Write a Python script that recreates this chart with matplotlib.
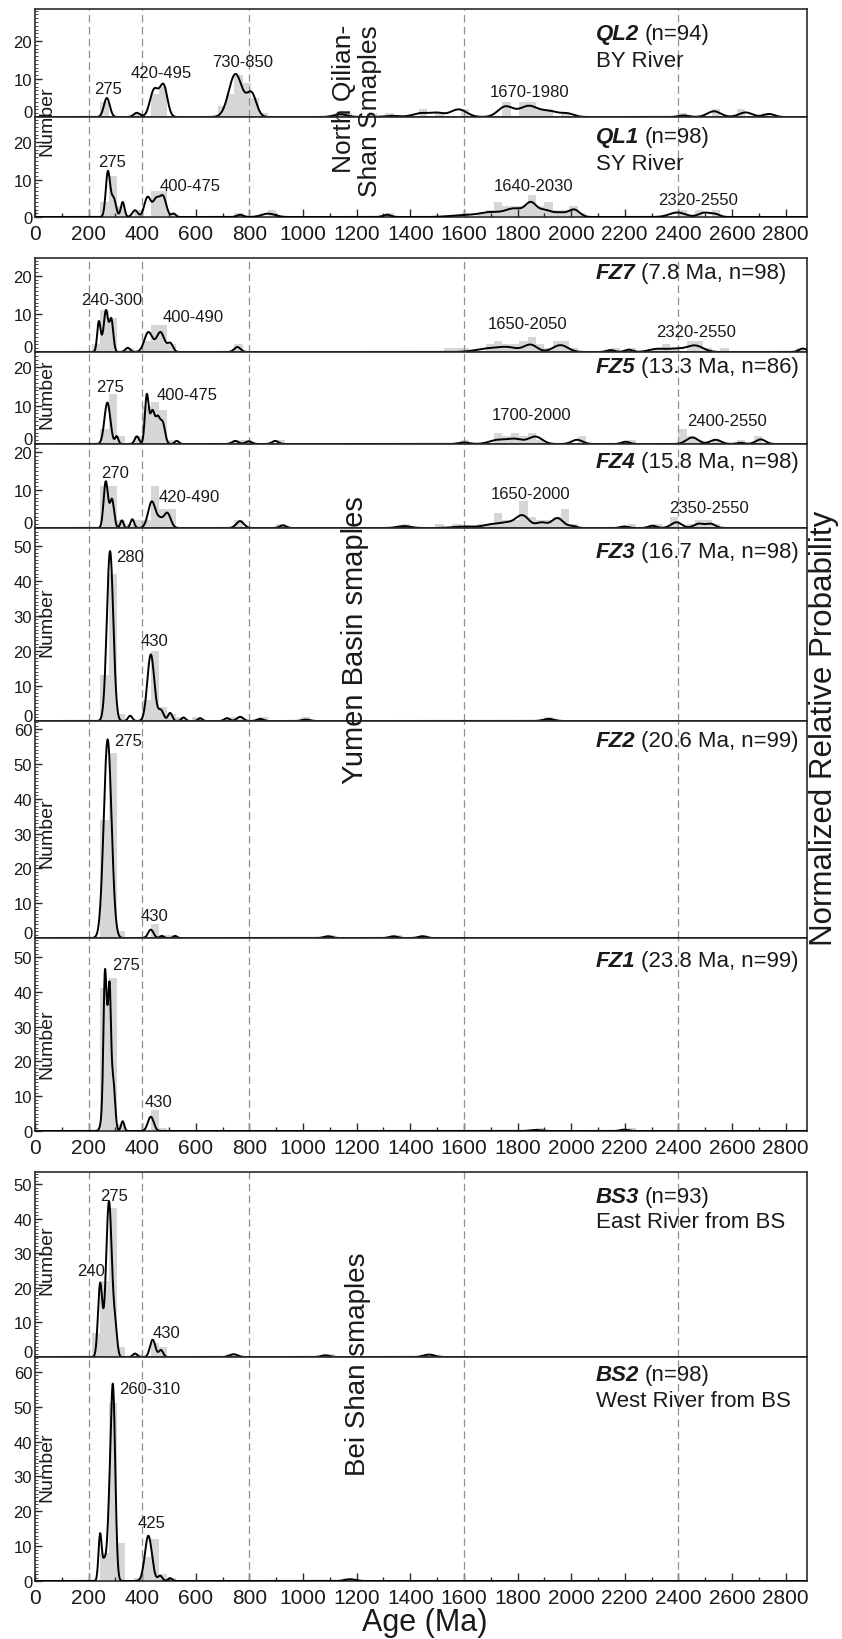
import numpy as np
import matplotlib
matplotlib.use("Agg")
import matplotlib.pyplot as plt
from matplotlib.ticker import MultipleLocator
from matplotlib.transforms import blended_transform_factory, ScaledTranslation

plt.rcParams['font.family'] = ['Liberation Sans', 'DejaVu Sans']

# ------------------------------------------------------------------ data
AGE_LINES = [200, 400, 800, 1600, 2400]
X_TICKS_MAJOR = 200
X_MAX = 2880
BIN_WIDTH = 31.25

# ---- QL2 (n=94) BY River
QL2_bins = [243.75, 368.75, 431.25, 462.5, 681.25, 712.5, 743.75, 775, 806.25, 837.5,
            1118.75, 1150, 1243.75, 1306.25, 1431.25, 1493.75, 1587.5, 1743.75, 1806.25,
            1837.5, 1868.75, 1900, 1962.5, 2400, 2525, 2618.75, 2712.5]
QL2_cnt = [4, 1, 6, 8, 3, 6, 11, 9, 5, 1, 1, 1, 1, 1, 2, 1, 2, 4, 4, 4, 2, 2, 1, 1, 2, 2, 1]
QL2_mu = [268, 380, 445, 480, 748, 808, 1140, 1330, 1440, 1500, 1580, 1755, 1842, 1920,
          1985, 2420, 2533, 2651, 2738]
QL2_amp = [5.0, 1.1, 7.2, 8.0, 11.3, 6.0, 0.7, 0.3, 1.0, 1.0, 2.0, 2.7, 2.9, 1.4, 0.9,
           0.4, 1.5, 1.2, 0.8]
QL2_sd = [11, 12, 16, 14, 25, 18, 25, 30, 30, 25, 30, 28, 35, 30, 25, 20, 25, 25, 20]
QL2_lbl = ["275", "420-495", "730-850", "1670-1980"]
QL2_lx = [271, 470, 775, 1845]
QL2_ly = [7.4, 11.8, 14.5, 6.8]

# ---- QL1 (n=98) SY River
QL1_bins = [243.75, 275, 306.25, 368.75, 431.25, 462.5, 493.75, 743.75, 868.75, 1306.25,
            1587.5, 1650, 1681.25, 1712.5, 1743.75, 1775, 1806.25, 1837.5, 1868.75, 1900,
            1931.25, 1962.5, 1993.75, 2025, 2400, 2462.5, 2525]
QL1_cnt = [4, 11, 3, 2, 7, 7, 1, 1, 2, 1, 1, 1, 2, 4, 3, 3, 3, 6, 3, 4, 2, 2, 3, 1, 2, 2, 2]
QL1_mu = [272, 293, 327, 373, 420, 452, 478, 517, 765, 870, 1313, 1600, 1700, 1790, 1850,
          1900, 1960, 2012, 2396, 2495, 2535]
QL1_amp = [12.0, 5.0, 4.0, 1.8, 5.3, 4.6, 5.3, 0.9, 0.6, 0.9, 0.6, 0.5, 1.2, 2.2, 3.3,
           1.8, 1.1, 1.9, 1.2, 1.1, 0.8]
QL1_sd = [8, 9, 7, 10, 12, 12, 12, 8, 12, 25, 15, 50, 40, 35, 20, 25, 25, 20, 30, 20, 18]
QL1_lbl = ["275", "400-475", "1640-2030", "2320-2550"]
QL1_lx = [289, 579, 1860, 2472]
QL1_ly = [14.9, 8.3, 8.3, 4.8]

# ---- FZ7 (7.8 Ma, n=98)
FZ7_bins = [212.5, 243.75, 275, 337.5, 400, 431.25, 462.5, 493.75, 743.75, 1525, 1556.25,
            1587.5, 1681.25, 1712.5, 1743.75, 1775, 1806.25, 1837.5, 1868.75, 1900, 1931.25,
            1962.5, 1993.75, 2150, 2212.5, 2306.25, 2337.5, 2368.75, 2431.25, 2462.5,
            2493.75, 2556.25, 2837.5]
FZ7_cnt = [2, 11, 9, 1, 3, 7, 7, 2, 2, 1, 1, 1, 2, 3, 2, 2, 3, 4, 2, 1, 3, 3, 1, 1, 1, 1,
           2, 1, 3, 3, 1, 1, 1]
FZ7_mu = [238, 262, 265, 285, 346, 423, 468, 505, 755, 1690, 1765, 1848, 1960, 2147, 2215,
          2321, 2390, 2462, 2865]
FZ7_amp = [7.0, 4.0, 7.0, 7.5, 1.1, 5.2, 5.2, 2.2, 1.3, 0.9, 1.1, 1.9, 1.8, 0.5, 0.6, 0.8,
           0.8, 1.7, 0.9]
FZ7_sd = [6, 15, 7, 7, 9, 15, 15, 10, 12, 45, 35, 25, 28, 15, 15, 30, 30, 30, 15]
FZ7_lbl = ["240-300", "400-490", "1650-2050", "2320-2550"]
FZ7_lx = [286, 590, 1837, 2465]
FZ7_ly = [13.9, 9.2, 7.4, 5.3]

# ---- FZ5 (13.3 Ma, n=86)
FZ5_bins = [243.75, 275, 306.25, 368.75, 400, 431.25, 462.5, 493.75, 743.75, 775, 900,
            1587.5, 1712.5, 1743.75, 1775, 1806.25, 1837.5, 1868.75, 2025, 2212.5, 2400,
            2431.25, 2462.5, 2525, 2618.75, 2681.25]
FZ5_cnt = [4, 13, 2, 2, 10, 11, 9, 1, 1, 1, 1, 1, 3, 2, 3, 2, 3, 1, 2, 1, 4, 2, 1, 1, 1, 2]
FZ5_mu = [270, 305, 380, 417, 438, 458, 476, 529, 747, 797, 896, 1600, 1724, 1790, 1867,
          2022, 2203, 2452, 2539, 2632, 2707]
FZ5_amp = [10.8, 2.0, 2.0, 12.5, 8.5, 6.0, 5.5, 0.8, 0.8, 0.7, 0.8, 0.4, 1.0, 1.3, 1.9,
           1.1, 0.6, 1.7, 1.1, 0.3, 1.2]
FZ5_sd = [11, 6, 8, 7, 9, 8, 9, 8, 12, 12, 12, 20, 30, 30, 25, 20, 15, 22, 20, 15, 18]
FZ5_lbl = ["275", "400-475", "1700-2000", "2400-2550"]
FZ5_lx = [279, 568, 1851, 2580]
FZ5_ly = [15.1, 12.8, 7.8, 6.0]

# ---- FZ4 (15.8 Ma, n=98)
FZ4_bins = [243.75, 275, 306.25, 337.5, 368.75, 400, 431.25, 462.5, 493.75, 743.75, 900,
            1368.75, 1493.75, 1556.25, 1650, 1681.25, 1712.5, 1743.75, 1775, 1806.25,
            1837.5, 1868.75, 1900, 1931.25, 1962.5, 1993.75, 2212.5, 2306.25, 2368.75,
            2431.25, 2462.5, 2493.75, 2525]
FZ4_cnt = [11, 11, 2, 1, 2, 2, 11, 5, 5, 2, 1, 1, 1, 1, 1, 1, 4, 2, 2, 7, 3, 2, 2, 3, 5, 1,
           1, 1, 3, 1, 2, 2, 1]
FZ4_mu = [264, 287, 324, 363, 436, 466, 493, 765, 925, 1376, 1600, 1710, 1763, 1818, 1889,
          1949, 2005, 2199, 2303, 2393, 2476, 2520]
FZ4_amp = [12.2, 7.5, 2.0, 2.3, 7.0, 1.8, 4.0, 1.8, 0.7, 0.5, 0.4, 1.0, 1.0, 3.3, 1.4,
           2.6, 0.5, 0.4, 0.6, 1.5, 1.1, 1.1]
FZ4_sd = [8, 8, 6, 7, 14, 10, 13, 14, 12, 25, 40, 35, 25, 25, 20, 22, 15, 15, 15, 20, 18, 18]
FZ4_lbl = ["270", "420-490", "1650-2000", "2350-2550"]
FZ4_lx = [299, 575, 1847, 2514]
FZ4_ly = [14.7, 8.4, 9.2, 5.3]

# ---- FZ3 (16.7 Ma, n=98)
FZ3_bins = [243.75, 275, 306.25, 400, 431.25, 462.5, 493.75, 525, 587.5, 712.5, 743.75,
            837.5, 993.75, 1900]
FZ3_cnt = [13, 42, 2, 6, 20, 4, 2, 1, 1, 1, 1, 1, 1, 1]
FZ3_mu = [280, 355, 432, 470, 504, 554, 616, 716, 765, 840, 1010, 1916]
FZ3_amp = [48.5, 1.5, 19.0, 3.0, 2.3, 1.0, 0.8, 0.8, 1.2, 0.6, 0.4, 0.6]
FZ3_sd = [12, 8, 13, 10, 8, 8, 8, 10, 12, 12, 15, 20]
FZ3_lbl = ["280", "430"]
FZ3_lx = [355, 444]
FZ3_ly = [47.1, 22.9]

# ---- FZ2 (20.6 Ma, n=99)
FZ2_bins = [243.75, 275, 306.25, 431.25, 462.5, 493.75, 1087.5, 1337.5, 1431.25]
FZ2_cnt = [34, 53, 2, 4, 1, 1, 1, 1, 1]
FZ2_mu = [271, 432, 473, 523, 1093, 1337, 1445]
FZ2_amp = [57.0, 2.4, 0.6, 0.6, 0.5, 0.5, 0.5]
FZ2_sd = [14.5, 10, 7, 7, 15, 15, 15]
FZ2_lbl = ["275", "430"]
FZ2_lx = [347, 444]
FZ2_ly = [56.6, 6.6]

# ---- FZ1 (23.8 Ma, n=99)
FZ1_bins = [243.75, 275, 306.25, 431.25, 462.5, 1868.75, 2212.5]
FZ1_cnt = [41, 44, 2, 6, 1, 1, 1]
FZ1_mu = [260, 272, 279, 294, 327, 432, 1865, 2199]
FZ1_amp = [26, 32, 15, 8, 2.8, 4.1, 0.3, 0.4]
FZ1_sd = [5, 12, 4, 6, 6, 11, 20, 15]
FZ1_lbl = ["275", "430"]
FZ1_lx = [340, 459]
FZ1_ly = [48.0, 8.6]

# ---- BS3 (n=93) East River from BS
BS3_bins = [212.5, 243.75, 275, 306.25, 368.75, 431.25, 462.5, 712.5, 1087.5, 1462.5]
BS3_cnt = [7, 22, 43, 3, 1, 4, 3, 1, 1, 1]
BS3_mu = [243, 276, 300, 373, 439, 470, 741, 1083, 1470]
BS3_amp = [21, 45, 7, 1.0, 5.0, 2.0, 0.8, 0.5, 0.7]
BS3_sd = [8, 11, 7, 8, 10, 8, 15, 15, 20]
BS3_lbl = ["275", "240", "430"]
BS3_lx = [295, 209, 489]
BS3_ly = [46.7, 25.1, 7.2]

# ---- BS2 (n=98) West River from BS
BS2_bins = [243.75, 275, 306.25, 368.75, 400, 431.25, 462.5, 493.75, 1150]
BS2_cnt = [8, 51, 11, 1, 7, 12, 2, 1, 1]
BS2_mu = [243, 258, 276, 291, 423, 467, 504, 1176]
BS2_amp = [13.5, 5, 14, 54, 13, 1.5, 0.8, 0.5]
BS2_sd = [6, 6, 8, 8.5, 13, 8, 8, 20]
BS2_lbl = ["260-310", "425"]
BS2_lx = [426, 436]
BS2_ly = [55.2, 16.7]

SAMPLE_IDS = ["QL2", "QL1", "FZ7", "FZ5", "FZ4", "FZ3", "FZ2", "FZ1", "BS3", "BS2"]
SAMPLE_INFO = ["(n=94)", "(n=98)", "(7.8 Ma, n=98)", "(13.3 Ma, n=86)", "(15.8 Ma, n=98)",
               "(16.7 Ma, n=98)", "(20.6 Ma, n=99)", "(23.8 Ma, n=99)", "(n=93)", "(n=98)"]
SAMPLE_SUB = ["BY River", "SY River", "", "", "", "", "", "", "East River from BS",
              "West River from BS"]
Y_MAX = [28.4, 26.7, 24.7, 24.0, 22.1, 55.1, 62.3, 55.5, 53.5, 64.3]

DATA = {
    "QL2": (QL2_bins, QL2_cnt, QL2_mu, QL2_amp, QL2_sd, QL2_lbl, QL2_lx, QL2_ly),
    "QL1": (QL1_bins, QL1_cnt, QL1_mu, QL1_amp, QL1_sd, QL1_lbl, QL1_lx, QL1_ly),
    "FZ7": (FZ7_bins, FZ7_cnt, FZ7_mu, FZ7_amp, FZ7_sd, FZ7_lbl, FZ7_lx, FZ7_ly),
    "FZ5": (FZ5_bins, FZ5_cnt, FZ5_mu, FZ5_amp, FZ5_sd, FZ5_lbl, FZ5_lx, FZ5_ly),
    "FZ4": (FZ4_bins, FZ4_cnt, FZ4_mu, FZ4_amp, FZ4_sd, FZ4_lbl, FZ4_lx, FZ4_ly),
    "FZ3": (FZ3_bins, FZ3_cnt, FZ3_mu, FZ3_amp, FZ3_sd, FZ3_lbl, FZ3_lx, FZ3_ly),
    "FZ2": (FZ2_bins, FZ2_cnt, FZ2_mu, FZ2_amp, FZ2_sd, FZ2_lbl, FZ2_lx, FZ2_ly),
    "FZ1": (FZ1_bins, FZ1_cnt, FZ1_mu, FZ1_amp, FZ1_sd, FZ1_lbl, FZ1_lx, FZ1_ly),
    "BS3": (BS3_bins, BS3_cnt, BS3_mu, BS3_amp, BS3_sd, BS3_lbl, BS3_lx, BS3_ly),
    "BS2": (BS2_bins, BS2_cnt, BS2_mu, BS2_amp, BS2_sd, BS2_lbl, BS2_lx, BS2_ly),
}

# ------------------------------------------------------------------ layout
W, H = 842, 1640
AX_LEFT, AX_RIGHT = 35, 807
# (top px, bottom px, label y fractions, has x tick labels, has panel below)
LAYOUT = {
    "QL2": (10, 118, (0.769, 0.519), False, True),
    "QL1": (118, 218, (0.80, 0.53), True, False),
    "FZ7": (259, 353, (0.851,), False, True),
    "FZ5": (353, 445, (0.837,), False, True),
    "FZ4": (445, 529, (0.786,), False, True),
    "FZ3": (529, 722, (0.876,), False, True),
    "FZ2": (722, 939, (0.908,), False, True),
    "FZ1": (939, 1132, (0.886,), True, False),
    "BS3": (1173, 1358, (0.870, 0.730), False, True),
    "BS2": (1358, 1582, (0.920, 0.804), True, False),
}
LABEL_X = 2093
NUMBER_LABEL_Y = [121, 394, 622, 833, 1044, 1260, 1467]

BAR_COLOR = "#d6d6d6"
SPINE_COLOR = "#2b2b2b"
TEXT_COLOR = "#1a1a1a"

fig = plt.figure(figsize=(W / 100, H / 100), dpi=100)
xs = np.arange(0, X_MAX + 1, 1.0)
stacked_axes = []

for i, sid in enumerate(SAMPLE_IDS):
    bins, cnt, mu, amp, sd, lbl, lx, ly = DATA[sid]
    top, bot, lfr, has_x, has_below = LAYOUT[sid]
    ax = fig.add_axes([AX_LEFT / W, 1 - bot / H, (AX_RIGHT - AX_LEFT) / W, (bot - top) / H])
    ax.bar(bins, cnt, width=BIN_WIDTH, align="edge", color=BAR_COLOR, linewidth=0, zorder=1)
    # probability density: sum of the kernel components
    dens = np.zeros_like(xs)
    for m, a, s in zip(mu, amp, sd):
        dens += a * np.exp(-0.5 * ((xs - m) / s) ** 2)
    ax.plot(xs, dens, color="black", lw=1.4, zorder=3)
    for v in AGE_LINES:
        ax.axvline(v, color="#8f8f8f", lw=0.9, ls=(0, (6, 3.5)), zorder=2)
    ax.set_xlim(0, X_MAX)
    ax.set_ylim(0, Y_MAX[i])
    for sp in ax.spines.values():
        sp.set_color(SPINE_COLOR)
        sp.set_linewidth(1.2)
    ax.yaxis.set_major_locator(MultipleLocator(10))
    ax.yaxis.set_minor_locator(MultipleLocator(1))
    ax.tick_params(axis="y", which="major", direction="in", length=5, width=1.0,
                   labelsize=12, pad=2, colors=SPINE_COLOR, labelcolor=TEXT_COLOR)
    ax.tick_params(axis="y", which="minor", direction="in", length=2.2, width=0.6,
                   colors=SPINE_COLOR)
    if has_x:
        ax.xaxis.set_major_locator(MultipleLocator(X_TICKS_MAJOR))
        ax.xaxis.set_minor_locator(MultipleLocator(X_TICKS_MAJOR / 2))
        ax.tick_params(axis="x", which="major", direction="in", length=6, width=1.0,
                       labelsize=15, pad=5, colors=SPINE_COLOR, labelcolor=TEXT_COLOR)
        ax.tick_params(axis="x", which="minor", direction="in", length=3, width=1.0,
                       colors=SPINE_COLOR)
    else:
        ax.tick_params(axis="x", which="both", bottom=False, labelbottom=False)
    if has_below:
        stacked_axes.append(ax)

    # peak labels
    for t, px, py in zip(lbl, lx, ly):
        ax.text(px, py, t, fontsize=12, ha="center", va="center", color=TEXT_COLOR, zorder=5)

    # sample label
    tr = blended_transform_factory(ax.transData, ax.transAxes)
    t1 = ax.text(LABEL_X, lfr[0], sid, transform=tr, fontsize=16, fontweight="bold",
                 fontstyle="italic", ha="left", va="center", color=TEXT_COLOR, zorder=6)
    ax.annotate(SAMPLE_INFO[i], xy=(1, 0), xycoords=t1, xytext=(4, 0),
                textcoords="offset points", ha="left", va="bottom", fontsize=16,
                color=TEXT_COLOR, zorder=6)
    if SAMPLE_SUB[i]:
        ax.text(LABEL_X, lfr[1], SAMPLE_SUB[i], transform=tr, fontsize=16, ha="left",
                va="center", color=TEXT_COLOR, zorder=6)

# "Number" y-labels
for yy in NUMBER_LABEL_Y:
    fig.text(47 / W, 1 - yy / H, "Number", rotation=90, ha="center", va="center",
             fontsize=14, color=TEXT_COLOR)

# group labels
fig.text(357 / W, 1 - 25 / H, "North Qilian-\nShan Smaples", rotation=90, ha="center",
         va="top", multialignment="right", fontsize=19, color=TEXT_COLOR, linespacing=1.15)
fig.text(355 / W, 1 - 640 / H, "Yumen Basin smaples", rotation=90, ha="center",
         va="center", fontsize=21, color=TEXT_COLOR)
fig.text(358 / W, 1 - 1364 / H, "Bei Shan smaples", rotation=90, ha="center",
         va="center", fontsize=20, color=TEXT_COLOR)
fig.text(824 / W, 1 - 728 / H, "Normalized Relative Probability", rotation=90,
         ha="center", va="center", fontsize=22.5, color=TEXT_COLOR)
fig.text(425 / W, 1 - 1623 / H, "Age (Ma)", ha="center", va="center", fontsize=22,
         color=TEXT_COLOR)

# lift the "0" label of stacked panels a little, as in the reference,
# so that it sits just above the panel boundary
fig.canvas.draw()
lift = ScaledTranslation(0, 4.5 / 72, fig.dpi_scale_trans)
for ax in stacked_axes:
    for tick in ax.yaxis.get_major_ticks():
        if abs(tick.get_loc()) < 1e-9:
            tick.label1.set_transform(tick.label1.get_transform() + lift)

fig.savefig("out.png", dpi=100, facecolor="white")
